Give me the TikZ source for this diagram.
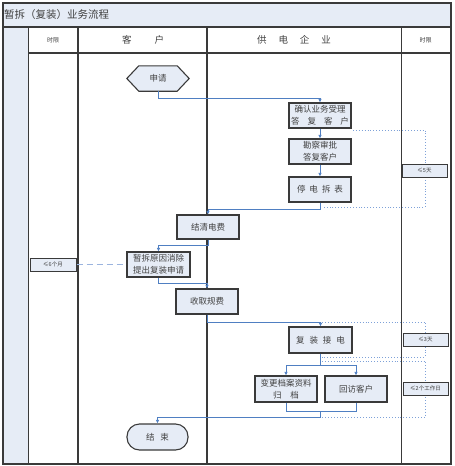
\documentclass[tikz,border=0pt]{standalone}
\usepackage{fontspec}
\setmainfont{Noto Sans CJK SC}
\usetikzlibrary{arrows.meta,calc}
\definecolor{fillb}{HTML}{E6ECF6}
\definecolor{lineb}{HTML}{4F7FC2}
\definecolor{dotb}{HTML}{7EA1D8}
\definecolor{dashb}{HTML}{9BB4DE}
\definecolor{frm}{HTML}{3A3A3A}
\definecolor{txt}{HTML}{404040}
\begin{document}
\begin{tikzpicture}[x=1pt,y=-1pt,
 box/.style={draw=frm,line width=1.2pt,fill=fillb,text=txt,minimum width=62pt,minimum height=25pt,inner sep=0pt,align=center,font=\fontsize{8.5}{12.5}\selectfont},
 flow/.style={draw=lineb,line width=1pt,-{Latex[length=3.5pt,width=3.5pt]}},
 link/.style={draw=lineb,line width=1pt},
 dots/.style={draw=dotb,line width=0.9pt,dotted},
 lim/.style={draw=frm,line width=1pt,fill=fillb,text=txt,minimum width=45pt,minimum height=13pt,inner sep=0pt,font=\fontsize{5.5}{6}\selectfont},
 col/.style={draw=frm,line width=1.4pt},
 head/.style={inner sep=0pt,text=txt}
]
\useasboundingbox (0,0) rectangle (455,466);
% backgrounds
\fill[fillb] (3,3) rectangle (451,27);
\fill[fillb] (3,27) rectangle (28.5,464);
% frame and columns
\draw[col,line width=1.6pt] (3,3) rectangle (451,464);
\draw[col] (3,27) -- (451,27);
\draw[col] (28.5,53) -- (451,53);
\draw[col] (28.5,27) -- (28.5,464);
\draw[col] (78,27) -- (78,464);
\draw[col] (207,27) -- (207,464);
\draw[col] (401.5,27) -- (401.5,464);
% title and headers
\node[anchor=west,inner sep=0pt,text=txt,font=\fontsize{10.5}{12}\selectfont] (title) at (4,15) {暂拆（复装）业务流程};
\node[head,font=\fontsize{6}{7}\selectfont] (h1) at (53,40) {时限};
\node[head,font=\fontsize{9.5}{10}\selectfont] (h2) at (143,40) {客\hspace{23pt}户};
\node[head,font=\fontsize{9.5}{10}\selectfont] (h3) at (294,40) {供\hspace{12pt}电\hspace{12pt}企\hspace{12pt}业};
\node[head,font=\fontsize{6}{7}\selectfont] (h4) at (425.5,40) {时限};
% dotted time loops
\coordinate (d1a) at (353,130); \coordinate (d1b) at (425,130);
\coordinate (d1c) at (425,207); \coordinate (d1d) at (322,207);
\draw[dots] (d1a) -- (d1b) -- (d1c) -- (d1d);
\coordinate (d2a) at (322,322); \coordinate (d2b) at (425,322);
\coordinate (d2c) at (425,357); \coordinate (d2d) at (322,357);
\draw[dots] (d2a) -- (d2b) -- (d2c) -- (d2d);
\coordinate (d3a) at (322,361); \coordinate (d3b) at (425,361);
\coordinate (d3c) at (425,417); \coordinate (d3d) at (322,417);
\draw[dots] (d3a) -- (d3b) -- (d3c) -- (d3d);
% start hexagon
\node[minimum width=62pt,minimum height=25pt,inner sep=0pt] (sq) at (158,78.5) {};
\draw[draw=frm,line width=1.1pt,fill=fillb] (sq.west) -- ([xshift=12pt]sq.north west) -- ([xshift=-12pt]sq.north east) -- (sq.east) -- ([xshift=-12pt]sq.south east) -- ([xshift=12pt]sq.south west) -- cycle;
\node[inner sep=0pt,text=txt,font=\fontsize{8.5}{10}\selectfont] (sqt) at (sq) {申请};
% boxes
\node[box] (b1) at (320,115.5) {确认业务受理\\答\hspace{8pt}复\hspace{8pt}客\hspace{8pt}户};
\node[box] (b2) at (320,151.5) {勘察审批\\答复客户};
\node[box] (b3) at (320,189.5) {停\hspace{4pt}电\hspace{4pt}拆\hspace{4pt}表};
\node[box,minimum height=24pt] (jq) at (208,227) {结清电费};
\node[box,minimum width=63pt] (zc) at (158.5,264.5) {暂拆原因消除\\提出复装申请};
\node[box] (sf) at (207,301.5) {收取规费};
\node[box,minimum width=63pt,minimum height=26pt] (fz) at (320.5,340) {复\hspace{5pt}装\hspace{5pt}接\hspace{5pt}电};
\node[box,minimum height=26pt] (bg) at (286,389) {变更档案资料\\归\hspace{9pt}档};
\node[box,minimum height=26pt] (hf) at (356,389) {回访客户};
\node[box,minimum width=61pt,minimum height=26pt,rounded corners=12.5pt,line width=1.1pt] (js) at (157.5,437) {结\hspace{6pt}束};
% limit boxes
\node[lim] (l5) at (424.5,170.5) {≤5天};
\node[lim] (l3) at (425.5,339.5) {≤3天};
\node[lim] (l2) at (425.5,388.5) {≤2个工作日};
\node[lim,minimum width=46pt] (l6) at (53,264.5) {≤6个月};
\draw[draw=dashb,line width=1.5pt,dash pattern=on 6pt off 4pt] (l6.east) -- (zc.west);
% flow
\draw[flow] (sq.south) -- ++(0,7) -| (b1.north);
\draw[flow] (b1.south) -- (b2.north);
\draw[flow] (b2.south) -- (b3.north);
\draw[flow] (b3.south) -- ++(0,6.5) -| (jq.north);
\draw[flow] (jq.south) -- ++(0,6) -| (zc.north);
\draw[flow] (zc.south) -- ++(0,6) -| (sf.north);
\draw[flow] (sf.south) -- ++(0,7.5) -| (fz.north);
\draw[flow] (fz.south) -- ++(0,12) -| (bg.north);
\draw[flow] (fz.south) -- ++(0,12) -| (hf.north);
\coordinate (mg) at (320.5,411);
\draw[link] (bg.south) |- (mg);
\draw[link] (hf.south) |- (mg);
\draw[flow] (mg) -- ++(0,6.5) -| (js.north);
\end{tikzpicture}
\end{document}
